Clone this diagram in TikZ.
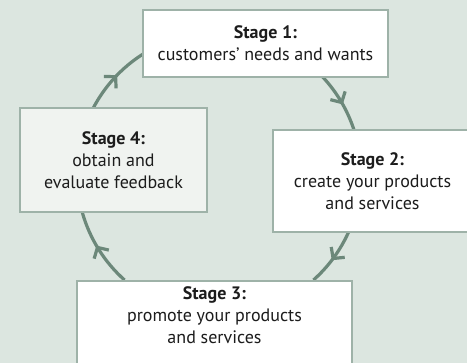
\documentclass[tikz,border=0pt]{standalone}
\usepackage{fontspec}
\setmainfont{PT Sans}
\usetikzlibrary{arrows.meta,decorations.markings,calc}
\definecolor{bg}{RGB}{220,230,224}
\definecolor{boxline}{RGB}{158,178,168}
\definecolor{cyc}{RGB}{108,136,122}
\definecolor{txt}{RGB}{28,28,28}
\definecolor{greyfill}{RGB}{240,243,240}
\tikzset{
  stagebox/.style={draw=boxline, line width=2.3pt, fill=white, align=center,
    inner sep=0pt, text=txt, font=\fontsize{18}{22}\selectfont},
  cycarc/.style={draw=cyc, line width=3.2pt, postaction={decorate},
    decoration={markings, mark=at position 0.55 with
      {\arrow{Straight Barb[length=8pt,width=17pt,line width=3.2pt]}}}}
}
\begin{document}
\begin{tikzpicture}[x=1pt,y=1pt]
\useasboundingbox (0,0) rectangle (467,363);
\fill[bg] (0,0) rectangle (467,363);
\coordinate (C) at (219,189);
% points where the cycle meets the boxes
\coordinate (p1b) at ($(C)+(43.1:142)$);
\coordinate (p2b) at ($(C)+(-24.1:142)$);
\coordinate (p3b) at ($(C)+(228.3:142)$);
\coordinate (p4b) at ($(C)+(152.3:142)$);
% cycle arcs
\draw[cycarc] (p1b) arc[start angle=43.1, end angle=18.1, radius=142];
\draw[cycarc] (p2b) arc[start angle=-24.1, end angle=-48.3, radius=142];
\draw[cycarc] (p3b) arc[start angle=228.3, end angle=195.5, radius=142];
\draw[cycarc] (p4b) arc[start angle=152.3, end angle=122.4, radius=142];
% boxes
\node[stagebox, minimum width=245pt, minimum height=67pt] (s1) at (265.5,319.5)
  {\textbf{Stage 1:}\\customers’ needs and wants};
\node[stagebox, minimum width=199pt, minimum height=102pt] (s2) at (372.5,182)
  {\textbf{Stage 2:}\\create your products\\and services};
\node[stagebox, anchor=north] (s3) at (214.5,83)
  {\parbox[t][100pt][t]{275pt}{\centering\vspace*{6pt}\textbf{Stage 3:}\\promote your products\\and services}};
\node[stagebox, fill=greyfill, minimum width=187pt, minimum height=104pt] (s4) at (113.5,203)
  {\textbf{Stage 4:}\\obtain and\\evaluate feedback};
\end{tikzpicture}
\end{document}
